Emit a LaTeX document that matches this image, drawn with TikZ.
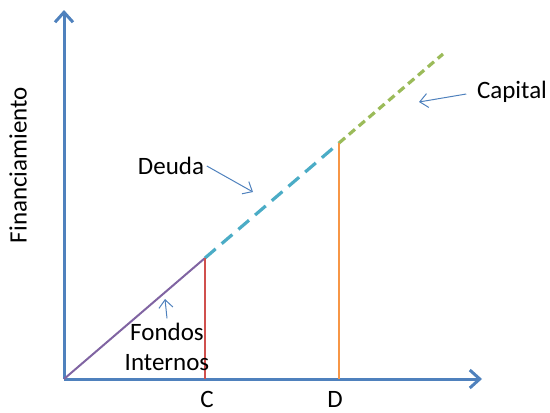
\documentclass[tikz,border=0pt]{standalone}
\usepackage{fontspec}
\setmainfont{Carlito}
\usetikzlibrary{arrows.meta}
\definecolor{axisblue}{HTML}{4F81BD}
\definecolor{debtcyan}{HTML}{4BACC6}
\definecolor{capgreen}{HTML}{9BBB59}
\definecolor{fundpurple}{HTML}{8064A2}
\definecolor{cred}{HTML}{D0504D}
\definecolor{dorange}{HTML}{F79646}
\tikzset{
  lbl/.style={font=\fontsize{12.5}{15}\selectfont, inner sep=0pt},
  pointer/.style={draw=axisblue, line width=0.5pt, -{Straight Barb[length=4pt,width=7pt]}}
}
\begin{document}
\begin{tikzpicture}[x=0.5pt, y=-0.5pt, >={Straight Barb[length=5pt,width=9pt]}, thick]
    \useasboundingbox (0,0) rectangle (550,412);
    % Axes
    \coordinate (O) at (64,379);
    \coordinate (Ytop) at (64,10);
    \coordinate (Xend) at (482,379);
    \draw[axisblue, line width=1.5pt, ->] (O) -- (Ytop);
    \draw[axisblue, line width=1.5pt, ->] (O) -- (Xend);
    \node[lbl, rotate=90] (yname) at (18,165) {Financiamiento};

    % Financing line
    \coordinate (C) at (205,258);
    \coordinate (D) at (339,143);
    \coordinate (E) at (443,54);
    \draw[fundpurple, line width=1pt] (O) -- (C);
    \draw[debtcyan, line width=1.6pt, dash pattern=on 7pt off 4pt] (C) -- (D);
    \draw[capgreen, line width=1.6pt, dash pattern=on 4pt off 2.5pt] (D) -- (E);

    % Verticals
    \coordinate (Cx) at (205,379);
    \coordinate (Dx) at (339,379);
    \draw[cred, line width=0.6pt] (C) -- (Cx);
    \draw[dorange, line width=0.6pt] (D) -- (Dx);
    \node[lbl] (cname) at (207,399) {C};
    \node[lbl] (dname) at (335,399) {D};

    % Labels
    \node[lbl] (deuda) at (171,166) {Deuda};
    \coordinate (deudatip) at (253,192);
    \draw[pointer] ([xshift=1pt]deuda.east) -- (deudatip);

    \node[lbl] (capital) at (512,92) {Capital};
    \coordinate (capitaltip) at (419,102);
    \draw[pointer] ([xshift=-5pt, yshift=-1pt]capital.west) -- (capitaltip);

    \node[lbl, align=center] (fondos) at (167,347) {Fondos\\Internos};
    \coordinate (fondostip) at (165,299);
    \draw[pointer] ([yshift=2pt]fondos.north) -- (fondostip);
\end{tikzpicture}
\end{document}
